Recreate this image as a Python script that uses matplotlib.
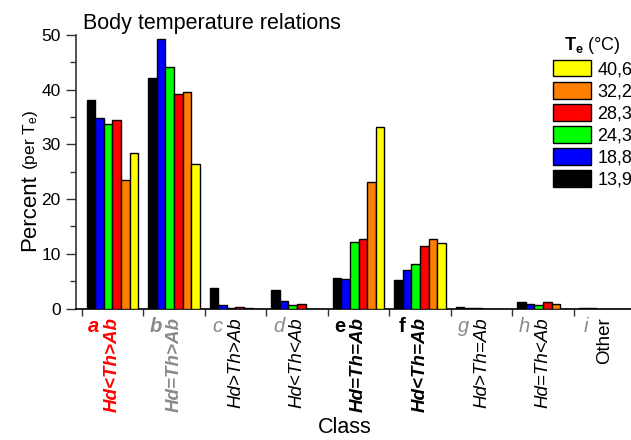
import matplotlib
matplotlib.use("Agg")
import matplotlib.pyplot as plt
from matplotlib.patches import Patch
import numpy as np

plt.rcParams['font.family'] = ['Liberation Sans', 'DejaVu Sans']
plt.rcParams['mathtext.fontset'] = 'custom'
plt.rcParams['mathtext.rm'] = 'Liberation Sans'
plt.rcParams['mathtext.bf'] = 'Liberation Sans:bold'
plt.rcParams['mathtext.it'] = 'Liberation Sans:italic'

# data
letters = ['a', 'b', 'c', 'd', 'e', 'f', 'g', 'h', 'i']
relations = ['Hd<Th>Ab', 'Hd=Th>Ab', 'Hd>Th>Ab', 'Hd<Th<Ab', 'Hd=Th=Ab',
             'Hd<Th=Ab', 'Hd>Th=Ab', 'Hd=Th<Ab', 'Other']
temps = ['13,9', '18,8', '24,3', '28,3', '32,2', '40,6']
colors = ['#000000', '#0000ff', '#00ff00', '#ff0000', '#ff8000', '#ffff00']

t139 = [38.1, 42.1, 3.7, 3.3, 5.6, 5.2, 0.3, 1.1, 0.1]
t188 = [34.8, 49.3, 0.7, 1.3, 5.4, 7.1, 0.15, 0.85, 0.05]
t243 = [33.8, 44.1, 0.1, 0.6, 12.2, 8.2, 0.05, 0.65, 0.0]
t283 = [34.4, 39.2, 0.2, 0.9, 12.7, 11.4, 0.0, 1.1, 0.0]
t322 = [23.5, 39.5, 0.1, 0.0, 23.2, 12.7, 0.0, 0.85, 0.0]
t406 = [28.5, 26.5, 0.0, 0.0, 33.1, 12.0, 0.0, 0.0, 0.0]
series = [t139, t188, t243, t283, t322, t406]

# (letter color, weight, style, relation color, weight, style)
gray = '#8a8a8a'
styles = [
    ('red', 'bold', 'italic', 'red', 'bold', 'italic'),
    (gray, 'bold', 'italic', gray, 'bold', 'italic'),
    (gray, 'normal', 'italic', 'black', 'normal', 'italic'),
    (gray, 'normal', 'italic', 'black', 'normal', 'italic'),
    ('black', 'bold', 'normal', 'black', 'bold', 'italic'),
    ('black', 'bold', 'normal', 'black', 'bold', 'italic'),
    (gray, 'normal', 'italic', 'black', 'normal', 'italic'),
    (gray, 'normal', 'italic', 'black', 'normal', 'italic'),
    (gray, 'normal', 'italic', 'black', 'normal', 'normal'),
]

W, H = 631, 440
fig = plt.figure(figsize=(W / 100, H / 100), dpi=100)
ax = fig.add_axes([76 / W, 1 - 308.5 / H, 1 - 76 / W, (308.5 - 35) / H])

x = np.arange(len(letters))
bw = 0.14
for k, vals in enumerate(series):
    ax.bar(x + (k - 2.5) * bw, vals, bw, color=colors[k], edgecolor='black',
           linewidth=1.0, zorder=3)

ax.set_xlim(-0.593, 8.43)
ax.set_ylim(0, 50)
ax.set_yticks(np.arange(0, 51, 10))
ax.set_yticks(np.arange(5, 50, 10), minor=True)
ax.set_xticks(np.arange(-0.5, 8, 1))
ax.set_xticklabels([])
for s in ['top', 'right']:
    ax.spines[s].set_visible(False)
ax.spines['left'].set_color('#333333')
ax.spines['left'].set_linewidth(1.2)
ax.spines['bottom'].set_color('black')
ax.spines['bottom'].set_linewidth(1.2)
ax.tick_params(axis='y', which='major', direction='out', length=7, width=1,
               color='#333333', labelsize=12.5, pad=4)
ax.tick_params(axis='y', which='minor', direction='out', length=4, width=1,
               color='#333333')
ax.tick_params(axis='x', which='major', direction='out', length=5, width=1,
               color='#333333')

tr = ax.get_xaxis_transform()
axh = 308.5 - 35
for i in range(len(letters)):
    lc, lw, ls, rc, rw, rs = styles[i]
    ax.text(x[i] - 0.30, (308.5 - 332) / axh, letters[i], transform=tr,
            ha='center', va='baseline', fontsize=14.5, color=lc,
            fontweight=lw, fontstyle=ls)
    ax.text(x[i] + 0.0, (308.5 - 317) / axh, relations[i], transform=tr,
            ha='center', va='top', rotation=90, fontsize=13.5, color=rc,
            fontweight=rw, fontstyle=rs)

ax.text(83 / W, 1 - 29 / H, 'Body temperature relations', transform=fig.transFigure,
        ha='left', va='baseline', fontsize=15.5)

ylab = fig.text(35 / W, 1 - 251 / H, 'Percent', rotation=90, rotation_mode='anchor',
                ha='left', va='baseline', fontsize=16)
fig.canvas.draw()
bb = ylab.get_window_extent()
fig.text(35 / W, (bb.y1 + 4) / H, '(per T$_\\mathregular{e}$)', rotation=90,
         rotation_mode='anchor', ha='left', va='baseline', fontsize=12.5)
fig.text(345 / W, 1 - 433 / H, 'Class', ha='center', va='baseline', fontsize=15.5)

handles = [Patch(facecolor=colors[k], edgecolor='black', linewidth=1.0)
           for k in range(len(temps))][::-1]
leg = ax.legend(handles, temps[::-1], loc='upper left',
                bbox_to_anchor=(553 / W, 1 - 35 / H), bbox_transform=fig.transFigure,
                frameon=False, fontsize=13, handlelength=2.1, handleheight=1.05,
                labelspacing=0.2, handletextpad=0.35, borderpad=0, borderaxespad=0,
                title='$\\mathbf{T_e}$ (°C)', title_fontsize=13)
leg._legend_box.align = 'center'

fig.savefig('out.png', dpi=100)
